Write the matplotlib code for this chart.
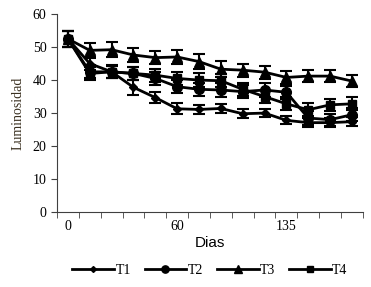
import numpy as np
import matplotlib
matplotlib.use('Agg')
import matplotlib.pyplot as plt
from matplotlib.lines import Line2D

# categorias del eje x (solo se rotulan algunas)
dias = ['0', '', '', '', '', '60', '', '', '', '', '135', '', '', '']

t1 = [52.5, 45.0, 42.5, 37.8, 34.7, 31.3, 31.1, 31.4, 29.8, 30.0, 27.8, 27.1, 27.1, 27.4]
t2 = [52.5, 42.5, 42.5, 42.0, 40.5, 38.0, 37.2, 37.0, 36.5, 37.0, 36.3, 28.5, 28.0, 29.5]
t3 = [52.5, 49.0, 49.2, 47.6, 46.8, 47.0, 45.6, 43.3, 43.0, 42.4, 40.8, 41.2, 41.2, 39.7]
t4 = [52.5, 42.0, 42.5, 42.0, 41.5, 40.5, 40.0, 39.8, 37.2, 35.0, 32.8, 31.0, 32.5, 32.8]

e1 = [2.5, 2.0, 2.0, 2.2, 1.6, 1.7, 1.4, 1.4, 1.4, 1.3, 1.2, 1.3, 1.3, 1.3]
e2 = [2.5, 2.0, 1.8, 2.0, 2.0, 2.0, 2.0, 2.0, 2.0, 2.0, 2.0, 2.0, 1.8, 2.0]
e3 = [2.5, 2.3, 2.3, 2.2, 2.0, 2.0, 2.2, 2.4, 2.0, 2.0, 2.0, 1.8, 1.8, 1.8]
e4 = [2.5, 2.0, 1.8, 2.0, 2.0, 2.0, 2.0, 2.0, 2.0, 2.0, 2.0, 2.0, 1.8, 2.0]

series = [('T1', t1, e1, 'D', 4), ('T2', t2, e2, 'o', 7),
          ('T3', t3, e3, '^', 7), ('T4', t4, e4, 's', 6)]

fig = plt.figure(figsize=(3.71, 2.87), dpi=100)
ax = fig.add_axes([0.1536, 0.261, 0.8244, 0.690])

x = np.arange(len(dias))
handles = []
for name, y, err, mk, ms in series:
    ax.errorbar(x, y, yerr=err, color='black', marker=mk, markersize=ms,
                linewidth=2, elinewidth=1.5, capsize=4.5, capthick=1.5)
    handles.append(Line2D([], [], color='black', marker=mk, linewidth=2,
                          markersize=ms * 0.75, label=name))

ax.set_xlim(-0.5, len(dias) - 0.5)
ax.set_ylim(0, 60)
ax.set_yticks(range(0, 61, 10))
ax.set_xticks(x)
ax.set_xticklabels(dias)
ax.set_xticks(np.arange(-0.5, len(dias)), minor=True)
ax.tick_params(axis='x', which='major', length=0, pad=6)
ax.tick_params(axis='x', which='minor', length=4, direction='out', color='#404040')
ax.tick_params(axis='y', length=4, direction='out', color='#404040')
for lab in ax.get_xticklabels() + ax.get_yticklabels():
    lab.set_fontfamily('Liberation Serif')
    lab.set_fontsize(10)

for s in ['top', 'right']:
    ax.spines[s].set_visible(False)
ax.spines['left'].set_color('#404040')
ax.spines['bottom'].set_color('#404040')

ax.set_ylabel('Luminosidad', family='Liberation Serif', fontsize=10, color='#3a3020', labelpad=6)
ax.set_xlabel('Dias', family='Liberation Sans', fontsize=11, labelpad=2)

ax.legend(handles=handles, loc='upper center', bbox_to_anchor=(0.5, -0.2), ncol=4,
          frameon=False, prop={'family': 'Liberation Serif', 'size': 10},
          handlelength=3, handletextpad=0.1, columnspacing=1.0)

fig.savefig('out.png', dpi=100)
